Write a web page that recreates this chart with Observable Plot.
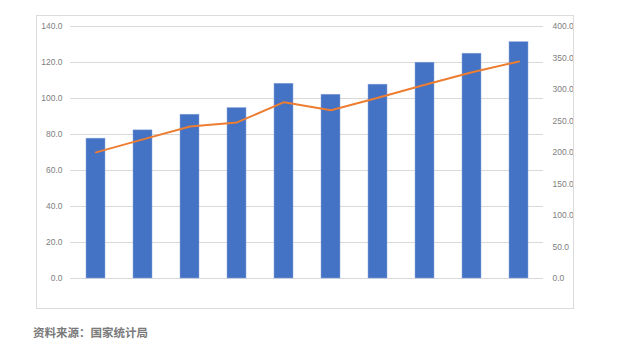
<!DOCTYPE html>
<html>
<head>
<meta charset="utf-8">
<script src="https://cdn.jsdelivr.net/npm/d3@7"></script>
<script src="https://cdn.jsdelivr.net/npm/@observablehq/plot@0.6"></script>
<style>
  html, body { margin: 0; padding: 0; background: #fff; width: 625px; height: 361px; overflow: hidden; }
  #box { position: absolute; left: 36px; top: 15px; width: 536px; height: 292px; border: 1px solid #dcdcdc; }
  #box svg { display: block; }
  #caption { position: absolute; left: 33px; top: 324px; font-family: "Noto Sans CJK SC", sans-serif; font-weight: bold; font-size: 11.5px; color: #7a7a7a; letter-spacing: 0; }
</style>
</head>
<body>
<div id="box"></div>
<div id="caption">资料来源：国家统计局</div>
<script>
const categories = ["2011","2012","2013","2014","2015","2016","2017","2018","2019","2020"];
const barValues = [77.7, 82.3, 91.0, 94.7, 108.2, 102.1, 107.7, 119.9, 124.9, 131.3];
const lineValues = [200.2, 220.8, 241.4, 247.7, 279.9, 267.2, 286.8, 307.4, 327.4, 344.4];
const leftTicks = [0, 20, 40, 60, 80, 100, 120, 140];
const rightTicks = [0, 50, 100, 150, 200, 250, 300, 350, 400];

const leftMax = 140, rightMax = 400;
const k = leftMax / rightMax;
const data = categories.map((c, i) => ({cat: c, bar: barValues[i], line: lineValues[i]}));

const chart = Plot.plot({
  width: 536,
  height: 292,
  marginLeft: 33,
  marginRight: 30,
  marginTop: 10,
  marginBottom: 30,
  style: {fontFamily: "'Liberation Sans', Arial, sans-serif", fontSize: "8.5px", color: "#808080", background: "transparent"},
  x: {type: "band", domain: categories, paddingInner: 0.6, paddingOuter: 0.3, align: 0.5, axis: null},
  y: {domain: [0, leftMax], axis: null, label: null},
  marks: [
    Plot.gridY(leftTicks, {stroke: "#d9d9d9", strokeOpacity: 1, strokeWidth: 1}),
    Plot.barY(data, {x: "cat", y: "bar", fill: "#4472c4", stroke: "#8fa9dc", strokeWidth: 0.5}),
    Plot.lineY(data, {x: "cat", y: d => d.line * k, stroke: "#ed7d31", strokeWidth: 2, curve: "linear"}),
    Plot.axisY({anchor: "left", ticks: leftTicks, label: null, tickSize: 0, tickPadding: 8, tickFormat: d => d.toFixed(1), fill: "#808080"}),
    Plot.axisY({anchor: "right", ticks: rightTicks.map(t => t * k), label: null, tickSize: 0, tickPadding: 9, tickFormat: d => (d / k).toFixed(1), fill: "#808080", textAnchor: "start"})
  ]
});
document.getElementById("box").appendChild(chart);
</script>
</body>
</html>
